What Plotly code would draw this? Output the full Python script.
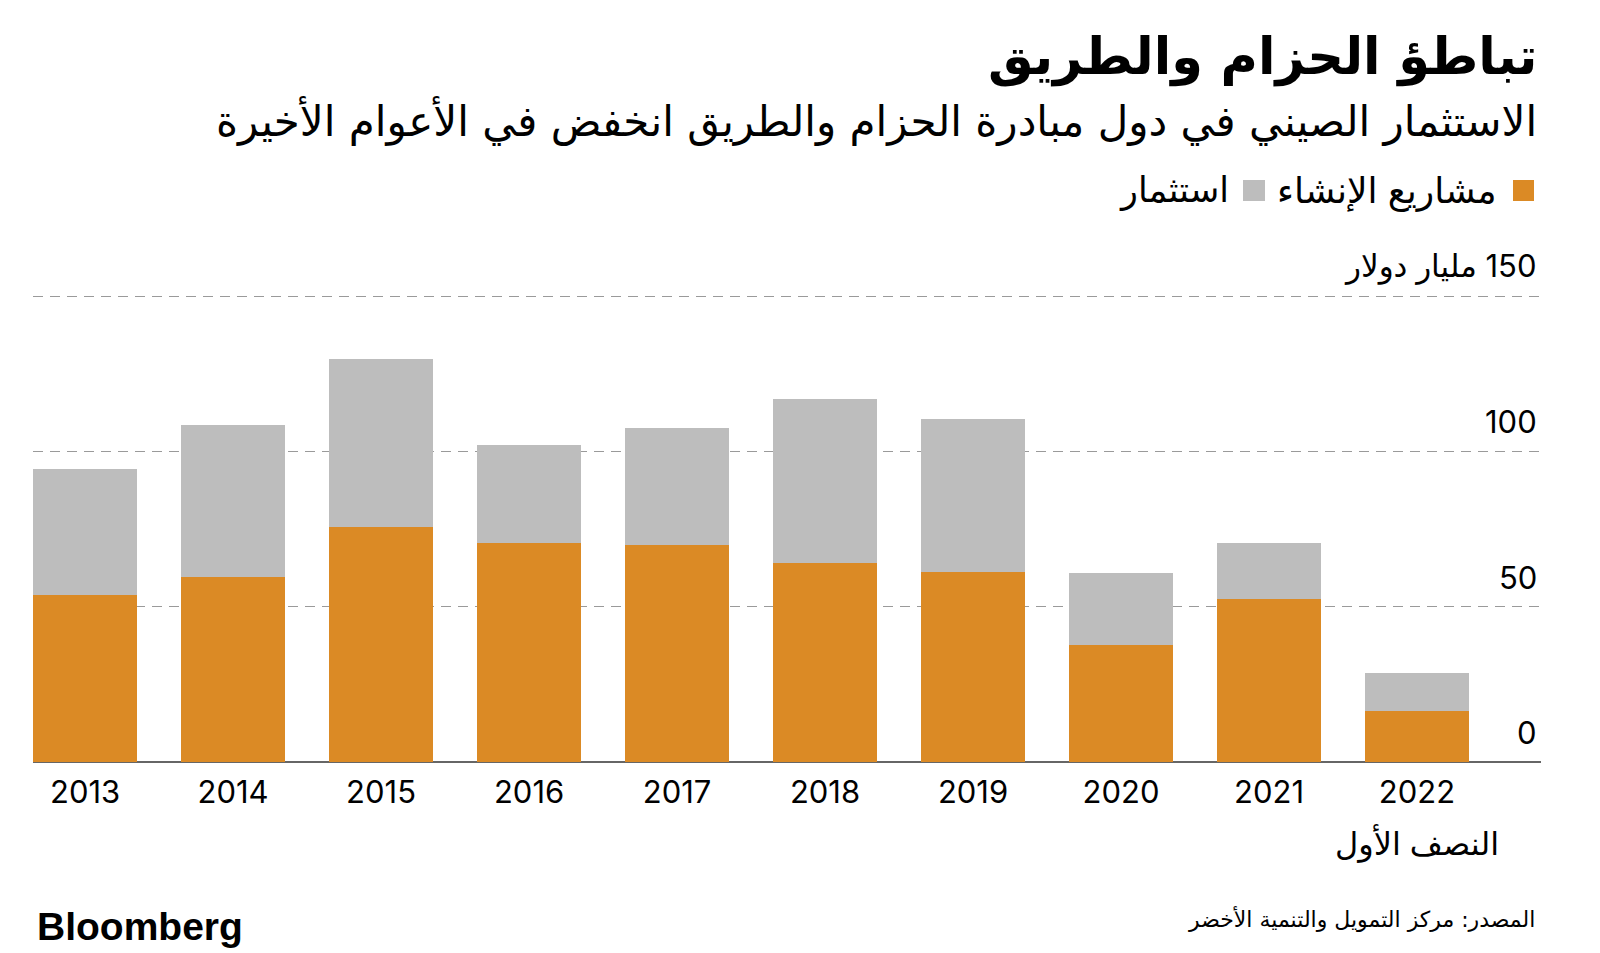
import plotly.graph_objects as go

# ---- data ----
years = ["2013", "2014", "2015", "2016", "2017", "2018", "2019", "2020", "2021", "2022"]
construction = [53.9, 59.7, 75.7, 70.4, 69.8, 64.2, 61.3, 37.6, 52.4, 16.3]   # مشاريع الإنشاء
investment = [40.4, 48.8, 54.2, 31.6, 37.8, 52.6, 49.2, 23.3, 18.0, 12.3]     # استثمار
y_ticks = [0, 50, 100, 150]
y_tick_labels = ["0", "50", "100", "\u200f150 مليار دولار"]
series_names = ["مشاريع الإنشاء", "استثمار"]

title = "تباطؤ الحزام والطريق"
subtitle = "الاستثمار الصيني في دول مبادرة الحزام والطريق انخفض في الأعوام الأخيرة"
source = "المصدر: مركز التمويل والتنمية الأخضر"
h1_note = "النصف الأول"

ORANGE = "#DB8A25"
GRAY = "#BDBDBD"
AR_FONT = "Inter, DejaVu Sans, sans-serif"

OFF = 8  # page body margin
W, H = 1600 - OFF, 953 - OFF
# plot area in reference-page pixels
L_ref, R_ref, T_ref, B_ref = 33, 1541, 290, 762
Y_MAX = 152
X_RANGE = [-0.352, 9.838]
L, R, T, B = L_ref - OFF, R_ref - OFF, T_ref - OFF, B_ref - OFF


def px(x):
    return (x - L_ref) / (R_ref - L_ref)


def py(y):
    return (B_ref - y) / (B_ref - T_ref)


fig = go.Figure()
fig.add_trace(go.Bar(x=years, y=construction, name=series_names[0],
                     marker=dict(color=ORANGE, line=dict(width=0)), showlegend=False))
fig.add_trace(go.Bar(x=years, y=investment, name=series_names[1],
                     marker=dict(color=GRAY, line=dict(width=0)), showlegend=False))

annotations = []
# title / subtitle
annotations.append(dict(text="<b>" + title + "</b>", x=px(1539), y=py(57), xref="paper", yref="paper",
                        xanchor="right", yanchor="middle", showarrow=False,
                        font=dict(family="DejaVu Sans", size=51, color="black")))
annotations.append(dict(text=subtitle, x=px(1539), y=py(121), xref="paper", yref="paper",
                        xanchor="right", yanchor="middle", showarrow=False,
                        font=dict(family="DejaVu Sans", size=42, color="black")))
# legend
annotations.append(dict(text=series_names[0], x=px(1499), y=py(190), xref="paper", yref="paper",
                        xanchor="right", yanchor="middle", showarrow=False,
                        font=dict(family=AR_FONT, size=36, color="black")))
annotations.append(dict(text=series_names[1], x=px(1231), y=py(190), xref="paper", yref="paper",
                        xanchor="right", yanchor="middle", showarrow=False,
                        font=dict(family=AR_FONT, size=35, color="black")))
# y tick labels above gridlines
for v, lab in zip(y_ticks, y_tick_labels):
    annotations.append(dict(text=lab, x=px(1539), y=v, xref="paper", yref="y",
                            xanchor="right", yanchor="bottom", yshift=9, showarrow=False,
                            font=dict(family=AR_FONT, size=31, color="black")))
# first-half note under the last bar
last_idx = len(years) - 1
annotations.append(dict(text=h1_note,
                        x=(last_idx - X_RANGE[0]) / (X_RANGE[1] - X_RANGE[0]), y=py(843),
                        xref="paper", yref="paper",
                        xanchor="center", yanchor="middle", showarrow=False,
                        font=dict(family=AR_FONT, size=32, color="black")))
# footer
annotations.append(dict(text="<b>Bloomberg</b>", x=px(35), y=py(926), xref="paper", yref="paper",
                        xanchor="left", yanchor="middle", showarrow=False,
                        font=dict(family="Liberation Sans Narrow, Liberation Sans, Arial", size=39, color="black")))
annotations.append(dict(text=source, x=px(1537), y=py(919), xref="paper", yref="paper",
                        xanchor="right", yanchor="middle", showarrow=False,
                        font=dict(family="DejaVu Sans", size=22, color="black")))

shapes = [
    dict(type="rect", xref="paper", yref="paper", x0=px(1513), x1=px(1534), y0=py(201), y1=py(180),
         fillcolor=ORANGE, line=dict(width=0)),
    dict(type="rect", xref="paper", yref="paper", x0=px(1243), x1=px(1265), y0=py(201), y1=py(180),
         fillcolor=GRAY, line=dict(width=0)),
]

fig.update_layout(
    width=W, height=H,
    margin=dict(l=L, r=W - R, t=T, b=H - B, pad=0),
    paper_bgcolor="white", plot_bgcolor="white",
    barmode="stack", bargap=0.297,
    annotations=annotations, shapes=shapes,
    font=dict(family=AR_FONT, color="black"),
    xaxis=dict(type="category", range=X_RANGE, showgrid=False, zeroline=False,
               showline=False, ticks="", tickfont=dict(family="Inter, sans-serif", size=31, color="black"),
               ticklabelstandoff=9),
    yaxis=dict(range=[0, Y_MAX], tickvals=y_ticks, showticklabels=False, ticks="",
               showgrid=True, gridcolor="#9a9a9a", gridwidth=1, griddash="10px,7px",
               zeroline=True, zerolinecolor="#666666", zerolinewidth=1.5, showline=False),
)

fig.write_html("out.html")
